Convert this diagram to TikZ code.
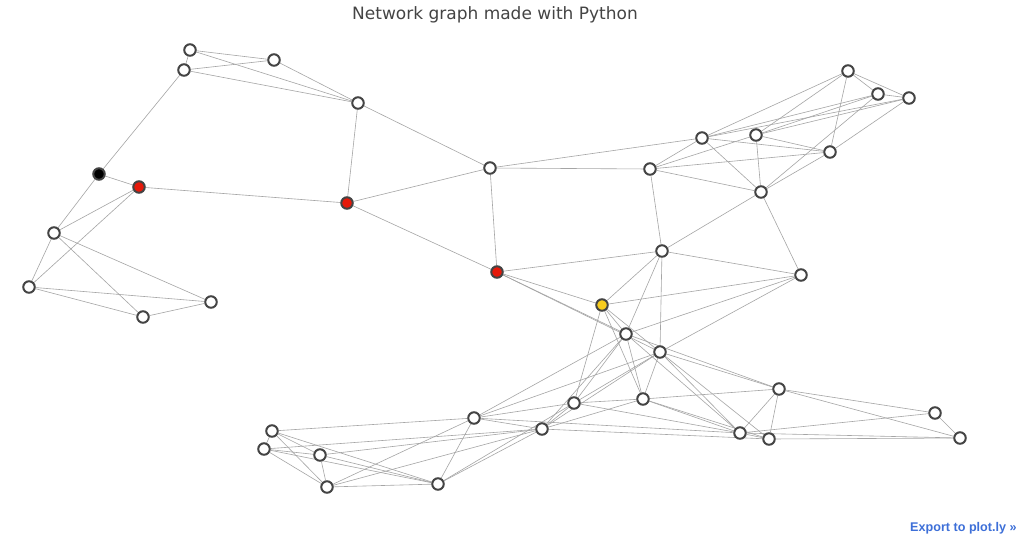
\documentclass[tikz,border=0pt]{standalone}
\usepackage{fontspec}
\setmainfont{DejaVu Sans}
\newfontfamily\exportfont{Liberation Sans}
\definecolor{edgecol}{RGB}{165,165,165}
\definecolor{ringcol}{RGB}{68,68,68}
\definecolor{redfill}{RGB}{230,25,10}
\definecolor{goldfill}{RGB}{247,204,30}
\definecolor{titlecol}{RGB}{68,68,68}
\definecolor{linkcol}{RGB}{61,111,216}
\pgfdeclarelayer{bg}
\pgfsetlayers{bg,main}
\tikzset{
  vtx/.style={circle, draw=ringcol, line width=2pt, fill=white, minimum size=11.5pt, inner sep=0pt},
  redvtx/.style={vtx, fill=redfill},
  goldvtx/.style={vtx, fill=goldfill},
  blackvtx/.style={vtx, fill=black},
  edge/.style={draw=edgecol, line width=0.6pt},
}
\begin{document}
\begin{tikzpicture}[x=1pt,y=-1pt]
\useasboundingbox (0,0) rectangle (1024,542);
\node[anchor=base, text=titlecol, font=\fontsize{17}{20}\selectfont] (title) at (495,19) {Network graph made with Python};
\node[anchor=base west, text=linkcol, font=\exportfont\bfseries\fontsize{12.6}{15}\selectfont, inner sep=0pt] (export) at (910,531) {Export to plot.ly »};
% nodes
\node[vtx] (a1) at (190,50) {};
\node[vtx] (a2) at (184,70) {};
\node[vtx] (a3) at (274,60) {};
\node[vtx] (a4) at (358,103) {};
\node[blackvtx] (bk) at (99,174) {};
\node[redvtx] (r1) at (139,187) {};
\node[redvtx] (r2) at (347,203) {};
\node[vtx] (l1) at (54,233) {};
\node[vtx] (l2) at (29,287) {};
\node[vtx] (l3) at (143,317) {};
\node[vtx] (l4) at (211,302) {};
\node[vtx] (c1) at (490,168) {};
\node[redvtx] (r3) at (497,272) {};
\node[goldvtx] (y) at (602,305) {};
\node[vtx] (m1) at (662,251) {};
\node[vtx] (n1) at (702,138) {};
\node[vtx] (n2) at (756,135) {};
\node[vtx] (n3) at (848,71) {};
\node[vtx] (n4) at (878,94) {};
\node[vtx] (n5) at (909,98) {};
\node[vtx] (n6) at (830,152) {};
\node[vtx] (n7) at (650,169) {};
\node[vtx] (n8) at (761,192) {};
\node[vtx] (n9) at (801,275) {};
\node[vtx] (p1) at (626,334) {};
\node[vtx] (p2) at (660,352) {};
\node[vtx] (p3) at (779,389) {};
\node[vtx] (p4) at (574,403) {};
\node[vtx] (p5) at (643,399) {};
\node[vtx] (p6) at (474,418) {};
\node[vtx] (p7) at (542,429) {};
\node[vtx] (p8) at (740,433) {};
\node[vtx] (p9) at (769,439) {};
\node[vtx] (p10) at (935,413) {};
\node[vtx] (p11) at (960,438) {};
\node[vtx] (q1) at (272,431) {};
\node[vtx] (q2) at (264,449) {};
\node[vtx] (q3) at (320,455) {};
\node[vtx] (q4) at (327,487) {};
\node[vtx] (q5) at (438,484) {};
% edges
\begin{pgfonlayer}{bg}
\fill[white] (0,0) rectangle (1024,542);
\foreach \u/\v in {a1/a2,a1/a3,a1/a4,a2/a3,a2/a4,a3/a4,a2/bk,a4/r2,a4/c1,
  bk/r1,bk/l1,r1/l1,r1/l2,r1/r2,l1/l2,l1/l3,l1/l4,l2/l4,l2/l3,l3/l4,
  r2/c1,r2/r3,c1/r3,c1/n1,c1/n7,
  n1/n3,n1/n4,n1/n5,n2/n3,n2/n4,n2/n5,n1/n6,n2/n6,n3/n4,n3/n5,n4/n5,n3/n6,n5/n6,
  n4/n8,n6/n8,n1/n8,n2/n8,n1/n7,n2/n7,n6/n7,n7/n8,n7/m1,n8/m1,n8/n9,
  r3/m1,r3/y,r3/p1,r3/p2,
  m1/y,m1/n9,m1/p1,m1/p2,
  y/n9,y/p1,y/p2,y/p4,y/p5,
  n9/p1,n9/p2,
  p1/p4,p1/p5,p1/p6,p1/p7,p1/p3,p1/p8,
  p2/p3,p2/p4,p2/p5,p2/p6,p2/p7,p2/p8,p2/p9,
  p3/p5,p3/p8,p3/p9,p3/p10,p3/p11,
  p4/p5,p4/p6,p4/p7,p4/p8,p4/q5,
  p5/p7,p5/p8,p5/p9,
  p6/p7,p6/p8,p6/q1,p6/q4,p6/q5,
  p7/p9,p7/q2,p7/q3,p7/q4,p7/q5,
  p8/p9,p8/p10,p8/p11,p9/p11,p10/p11,
  q1/q2,q1/q3,q1/q4,q1/q5,q2/q3,q2/q4,q2/q5,q3/q4,q3/q5,q4/q5}
  {\draw[edge] (\u) -- (\v);}
\end{pgfonlayer}
\end{tikzpicture}
\end{document}
